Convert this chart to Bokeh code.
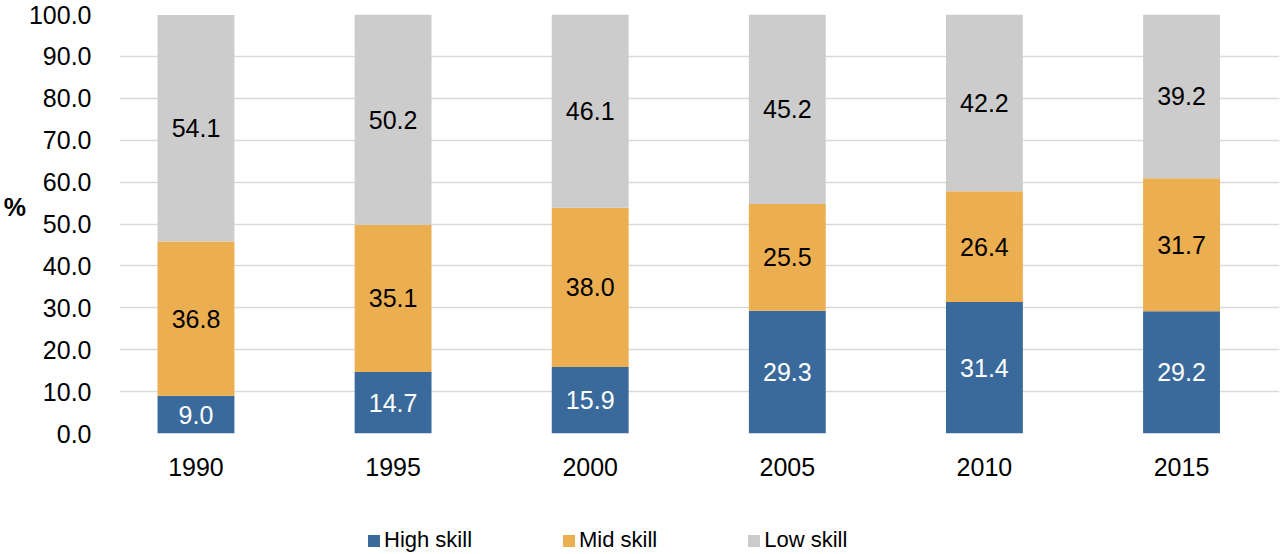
from bokeh.plotting import figure
from bokeh.layouts import column
from bokeh.models import (Range1d, FixedTicker, NumeralTickFormatter, Legend,
                          LegendItem, ColumnDataSource)
from bokeh.embed import file_html
from bokeh.resources import INLINE
from bokeh.core.properties import value

# ---- data ----
years = ["1990", "1995", "2000", "2005", "2010", "2015"]
high_skill = [9.0, 14.7, 15.9, 29.3, 31.4, 29.2]
mid_skill = [36.8, 35.1, 38.0, 25.5, 26.4, 31.7]
low_skill = [54.1, 50.2, 46.1, 45.2, 42.2, 39.2]
series_names = ["High skill", "Mid skill", "Low skill"]
series_colors = ["#3a6a9b", "#ebae50", "#cccccc"]
label_colors = ["#ffffff", "#000000", "#000000"]
y_ticks = [0, 10, 20, 30, 40, 50, 60, 70, 80, 90, 100]

FONT = "Liberation Sans"
LEFT = 119

xs = list(range(len(years)))
source = ColumnDataSource(dict(x=xs, high=high_skill, mid=mid_skill, low=low_skill))

p = figure(width=1280, height=500, output_backend="svg", toolbar_location=None,
           x_range=Range1d(-0.388, 5.497), y_range=Range1d(0, 100),
           min_border_left=LEFT, min_border_right=1, min_border_top=14,
           min_border_bottom=67, outline_line_color=None)

renderers = p.vbar_stack(["high", "mid", "low"], x="x", width=0.39,
                         color=series_colors, line_color=None, source=source)

# segment labels (centre of each stacked segment)
cols = [high_skill, mid_skill, low_skill]
lx, ly, lt, lc = [], [], [], []
for i in range(len(years)):
    base = 0.0
    for s, vals in enumerate(cols):
        v = vals[i]
        lx.append(xs[i])
        ly.append(base + v / 2.0)
        lt.append(f"{v:.1f}")
        lc.append(label_colors[s])
        base += v
lsrc = ColumnDataSource(dict(x=lx, y=ly, text=lt, color=lc))
p.text(x="x", y="y", text="text", text_color="color", source=lsrc,
       text_align="center", text_baseline="middle",
       text_font=value(FONT), text_font_size="25px")

# axes
p.xaxis.ticker = FixedTicker(ticks=xs)
p.xaxis.major_label_overrides = {i: y for i, y in enumerate(years)}
p.xaxis.axis_line_color = None
p.xaxis.major_tick_line_color = None
p.xaxis.minor_tick_line_color = None
p.xaxis.major_label_standoff = 18
p.xaxis.major_label_text_font = FONT
p.xaxis.major_label_text_font_size = "25px"
p.xaxis.major_label_text_color = "#000000"

p.yaxis.ticker = FixedTicker(ticks=y_ticks)
p.yaxis.formatter = NumeralTickFormatter(format="0.0")
p.yaxis.axis_line_color = None
p.yaxis.major_tick_line_color = None
p.yaxis.minor_tick_line_color = None
p.yaxis.major_label_standoff = 22
p.yaxis.major_label_text_font = FONT
p.yaxis.major_label_text_font_size = "25px"
p.yaxis.major_label_text_color = "#000000"
p.yaxis.axis_label = "%\n "
p.yaxis.axis_label_orientation = "horizontal"
p.yaxis.axis_label_text_font = FONT
p.yaxis.axis_label_text_font_size = "25px"
p.yaxis.axis_label_text_font_style = "bold"
p.yaxis.axis_label_text_color = "#000000"
p.yaxis.axis_label_standoff = 0

p.xgrid.grid_line_color = None
p.ygrid.grid_line_color = "#d9d9d9"
p.ygrid.grid_line_width = 1.5

# legend strip below the chart
lg = figure(width=1280, height=54, output_backend="svg", toolbar_location=None,
            x_range=Range1d(0, 1), y_range=Range1d(0, 1),
            x_axis_location=None, y_axis_location=None,
            min_border_left=LEFT, min_border_right=1, min_border_top=0,
            min_border_bottom=0, outline_line_color=None)
lg.xgrid.grid_line_color = None
lg.ygrid.grid_line_color = None
# zero-height swatch renderers that only give the legend its colours
dummies = [lg.vbar(x=[0.5], top=[0], bottom=0, width=0.1, fill_color=c, line_color=None)
           for c in series_colors]
legend = Legend(items=[LegendItem(label=n, renderers=[r]) for n, r in zip(series_names, dummies)],
                orientation="horizontal", location=(366 - LEFT, 1),
                padding=0, margin=0, spacing=89, label_standoff=3,
                glyph_width=15, glyph_height=15, label_height=22,
                label_text_font=FONT, label_text_font_size="22px",
                label_text_color="#000000", border_line_color=None,
                background_fill_alpha=0)
lg.add_layout(legend, "center")

layout = column(p, lg, spacing=0)
open("out.html", "w").write(file_html(layout, INLINE))
